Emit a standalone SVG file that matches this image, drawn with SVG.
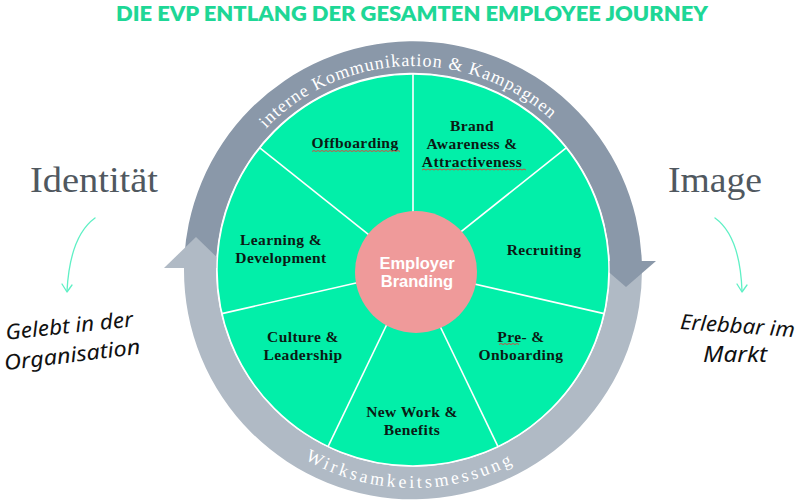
<svg xmlns="http://www.w3.org/2000/svg" width="800" height="502" viewBox="0 0 800 502">
<defs>
<style>
.title{font-family:Lato,"Liberation Sans",sans-serif;font-weight:800;font-size:21px;fill:#1ed796}
.big{font-family:"Liberation Serif",serif;font-size:36px;fill:#50585f}
.hand{font-family:"Noto Sans","DejaVu Sans",sans-serif;font-style:italic;font-size:21px;fill:#111}
.seg{font-family:"Liberation Serif",serif;font-weight:700;font-size:15.5px;letter-spacing:0.4px;fill:#0b1a14;text-anchor:middle}
.ring{font-family:"Liberation Serif",serif;fill:#ffffff}
.ctr{font-family:"Liberation Sans",sans-serif;font-weight:700;font-size:16.5px;fill:#ffffff;text-anchor:middle}
.div{stroke:#ffffff;stroke-width:1.6;fill:none}
.cur{stroke:#5ff0c5;stroke-width:1.3;fill:none;stroke-linecap:round;stroke-linejoin:round}
.sq{stroke:#e0403a;stroke-width:0.9;fill:none}
</style>
<path id="topArc" d="M 209,270 A 204 204 0 0 1 617,270"/>
<path id="botArc" d="M 195,270 A 218 218 0 0 0 631,270"/>
</defs>
<rect width="800" height="502" fill="#ffffff"/>

<text class="title" x="412" y="20.5" text-anchor="middle" textLength="592" lengthAdjust="spacingAndGlyphs">DIE EVP ENTLANG DER GESAMTEN EMPLOYEE JOURNEY</text>

<g id="identitaet">
<text class="big" x="30" y="192" textLength="128" lengthAdjust="spacingAndGlyphs">Identität</text>
<text class="hand" x="70" y="333" text-anchor="middle" textLength="128" lengthAdjust="spacingAndGlyphs" transform="rotate(-6 70 333)">Gelebt in der</text>
<text class="hand" x="73" y="362" text-anchor="middle" textLength="137" lengthAdjust="spacingAndGlyphs" transform="rotate(-7 73 362)">Organisation</text>
</g>

<g id="image">
<text class="big" x="668" y="192" textLength="94" lengthAdjust="spacingAndGlyphs">Image</text>
<text class="hand" x="737" y="333" text-anchor="middle" textLength="115" lengthAdjust="spacingAndGlyphs" transform="rotate(4 737 333)">Erlebbar im</text>
<text class="hand" x="735" y="362" text-anchor="middle" textLength="64" lengthAdjust="spacingAndGlyphs">Markt</text>
</g>

<g id="ring-bottom">
<path d="M 641.8,261 A 229 229 0 1 1 184,268 L 216,268 A 197 197 0 1 0 609.8,261 Z" fill="#b0bac5"/>
</g>

<g id="ring-top">
<path d="M 184,268 A 229 229 0 0 1 641.8,261 L 609.8,261 A 197 197 0 0 0 216,268 Z" fill="#8a98a9"/>
<polygon points="596,261 656,261 626,287" fill="#8a98a9"/>
<text class="ring" font-size="18" letter-spacing="1"><textPath href="#topArc" startOffset="49%" text-anchor="middle">interne Kommunikation &amp; Kampagnen</textPath></text>
</g>

<g id="ring-bottom-head">
<polygon points="164,268 228,268 196,237" fill="#b0bac5"/>
<text class="ring" font-size="18" letter-spacing="3"><textPath href="#botArc" startOffset="49.5%" text-anchor="middle">Wirksamkeitsmessung</textPath></text>
</g>

<g id="wheel">
<circle cx="413" cy="270" r="196" fill="#02efa9" stroke="#ffffff" stroke-width="1.5"/>
</g>

<g id="connectors">
<line class="div" x1="413" y1="270" x2="413" y2="74"/>
<line class="div" x1="413" y1="270" x2="566.2" y2="147.8"/>
<line class="div" x1="413" y1="270" x2="604.1" y2="313.6"/>
<line class="div" x1="413" y1="270" x2="498" y2="446.6"/>
<line class="div" x1="413" y1="270" x2="328" y2="446.6"/>
<line class="div" x1="413" y1="270" x2="221.9" y2="313.6"/>
<line class="div" x1="413" y1="270" x2="259.8" y2="147.8"/>
<path class="cur" d="M 95,218 Q 70,236 67,291"/>
<path class="cur" d="M 62,284 L 67,292 L 72,285"/>
<path class="cur" d="M 715,218 Q 740,236 742,291"/>
<path class="cur" d="M 737,284 L 742,292 L 747,285"/>
</g>

<g id="center">
<circle cx="416" cy="272" r="61" fill="#ef9a9a"/>
<text class="ctr" x="417" y="269">Employer</text>
<text class="ctr" x="417" y="287">Branding</text>
</g>

<g id="offboarding">
<text class="seg" x="355" y="148">Offboarding</text>
<path class="sq" d="M 312,151.5 l 2,-1 2,1 2,-1 2,1 2,-1 2,1 2,-1 2,1 2,-1 2,1 2,-1 2,1 2,-1 2,1 2,-1 2,1 2,-1 2,1 2,-1 2,1 2,-1 2,1 2,-1 2,1 2,-1 2,1 2,-1 2,1 2,-1 2,1 2,-1 2,1 2,-1 2,1 2,-1 2,1 2,-1 2,1 2,-1 2,1 2,-1 2,1 2,-1 2,1"/>
</g>

<g id="brand">
<text class="seg" x="472" y="131">Brand</text>
<text class="seg" x="472" y="149">Awareness &amp;</text>
<text class="seg" x="472" y="167">Attractiveness</text>
<path class="sq" d="M 422,170 l 2,-1 2,1 2,-1 2,1 2,-1 2,1 2,-1 2,1 2,-1 2,1 2,-1 2,1 2,-1 2,1 2,-1 2,1 2,-1 2,1 2,-1 2,1 2,-1 2,1 2,-1 2,1 2,-1 2,1 2,-1 2,1 2,-1 2,1 2,-1 2,1 2,-1 2,1 2,-1 2,1 2,-1 2,1 2,-1 2,1 2,-1 2,1 2,-1 2,1 2,-1 2,1 2,-1 2,1 2,-1 2,1 2,-1 2,1"/>
</g>

<g id="recruiting">
<text class="seg" x="544" y="255">Recruiting</text>
</g>

<g id="onboarding">
<text class="seg" x="521" y="342">Pre- &amp;</text>
<text class="seg" x="521" y="360">Onboarding</text>
<path class="sq" d="M 499,344.5 l 2,-1 2,1 2,-1 2,1 2,-1 2,1 2,-1 2,1 2,-1 2,1"/>
</g>

<g id="newwork">
<text class="seg" x="412" y="417">New Work &amp;</text>
<text class="seg" x="412" y="435">Benefits</text>
</g>

<g id="culture">
<text class="seg" x="303" y="342">Culture &amp;</text>
<text class="seg" x="303" y="360">Leadership</text>
</g>

<g id="learning">
<text class="seg" x="281" y="245">Learning &amp;</text>
<text class="seg" x="281" y="263">Development</text>
</g>
</svg>
